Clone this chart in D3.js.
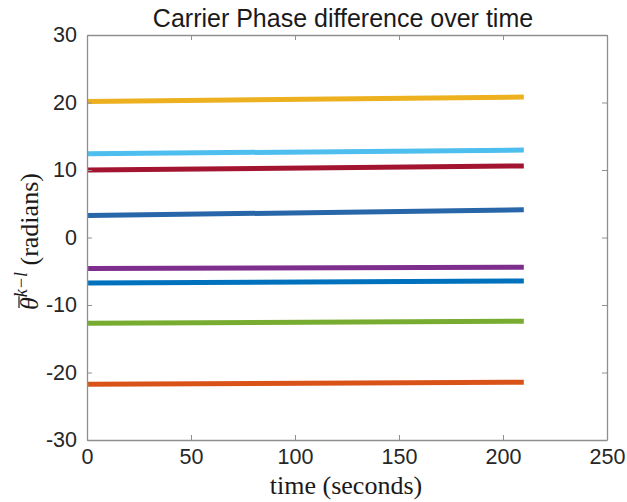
<!DOCTYPE html>
<html>
<head>
<meta charset="utf-8">
<script src="https://cdn.jsdelivr.net/npm/d3@7"></script>
<style>
  html, body { margin: 0; padding: 0; background: #fff; }
  svg { display: block; }
</style>
</head>
<body>
<svg id="chart" width="627" height="502"></svg>
<script>
// Time span of each trace (seconds)
const times = [0.5, 210];

// Phase difference of each satellite pair at start and end of the run (radians)
const seriesNames = ["pair1", "pair2", "pair3", "pair4", "pair5", "pair6", "pair7", "pair8"];
const seriesStart = [20.15, 12.4, 10.0, 3.25, -4.6, -6.75, -12.7, -21.75];
const seriesEnd   = [20.8, 12.95, 10.6, 4.1, -4.4, -6.45, -12.4, -21.45];
const seriesColors = ["#EDB120", "#4DBEEE", "#A2142F", "#2766a8", "#7E2F8E", "#0072BD", "#77AC30", "#D95319"];

const xTicks = [0, 50, 100, 150, 200, 250];
const yTicks = [-30, -20, -10, 0, 10, 20, 30];

const svg = d3.select("#chart");
const plot = { left: 87, right: 607, top: 35, bottom: 440 };

const x = d3.scaleLinear().domain([0, 250]).range([plot.left, plot.right]);
const y = d3.scaleLinear().domain([-30, 30]).range([plot.bottom, plot.top]);

const axisColor = "#8f8f8f";
const tickFont = "'Liberation Sans', Arial, Helvetica, sans-serif";
const serifFont = "'Liberation Serif', 'DejaVu Serif', serif";
const plainNum = d => String(d);   // hyphen-minus, as the axes print it

// Data traces
const line = d3.line().x(d => x(d[0])).y(d => y(d[1]));
seriesNames.forEach((name, i) => {
  const pts = [[times[0], seriesStart[i]], [times[1], seriesEnd[i]]];
  svg.append("path")
    .attr("class", "trace " + name)
    .attr("d", line(pts))
    .attr("fill", "none")
    .attr("stroke", seriesColors[i])
    .attr("stroke-width", 5);
});

// Axes: ticks point inward, mirrored on the opposite sides
function styleAxis(g) {
  g.select(".domain").attr("stroke", axisColor).attr("stroke-width", 1.3);
  g.selectAll(".tick line").attr("stroke", axisColor).attr("stroke-width", 1);
  g.selectAll(".tick text").attr("fill", "#262626")
    .attr("font-family", tickFont).attr("font-size", "21.5px");
}

svg.append("g").attr("transform", `translate(0,${plot.bottom})`)
  .call(d3.axisBottom(x).tickValues(xTicks).tickFormat(plainNum)
    .tickSizeInner(-5).tickSizeOuter(0).tickPadding(9))
  .call(styleAxis);

svg.append("g").attr("transform", `translate(0,${plot.top})`)
  .call(d3.axisTop(x).tickValues(xTicks).tickFormat("")
    .tickSizeInner(-5).tickSizeOuter(0))
  .call(styleAxis);

svg.append("g").attr("transform", `translate(${plot.left},0)`)
  .call(d3.axisLeft(y).tickValues(yTicks).tickFormat(plainNum)
    .tickSizeInner(-5).tickSizeOuter(0).tickPadding(10))
  .call(styleAxis);

svg.append("g").attr("transform", `translate(${plot.right},0)`)
  .call(d3.axisRight(y).tickValues(yTicks).tickFormat("")
    .tickSizeInner(-5).tickSizeOuter(0))
  .call(styleAxis);

// Title
svg.append("text")
  .attr("x", (plot.left + plot.right) / 2 - 4).attr("y", 27)
  .attr("text-anchor", "middle")
  .attr("font-family", tickFont).attr("font-size", "25px")
  .attr("fill", "#1a1a1a")
  .text("Carrier Phase difference over time");

// X label
svg.append("text")
  .attr("x", (plot.left + plot.right) / 2 - 1).attr("y", 494)
  .attr("text-anchor", "middle")
  .attr("font-family", serifFont).attr("font-size", "26px")
  .attr("fill", "#1a1a1a")
  .text("time (seconds)");

// Y label: theta with an overbar and k-l superscript, then units
const ylGroup = svg.append("g")
  .attr("transform", `translate(38,${(plot.top + plot.bottom) / 2 + 4}) rotate(-90)`);
const yl = ylGroup.append("text")
  .attr("text-anchor", "middle")
  .attr("font-family", serifFont).attr("font-size", "26px")
  .attr("fill", "#1a1a1a");
yl.append("tspan").attr("font-style", "italic").text("θ");
yl.append("tspan").attr("font-style", "italic").attr("font-size", "18px").attr("dy", -11).text("k−l");
yl.append("tspan").attr("dy", 11).text(" (radians)");

// overbar above the theta glyph
const thetaBox = yl.node().getExtentOfChar(0);
ylGroup.append("line")
  .attr("x1", thetaBox.x + 2).attr("x2", thetaBox.x + thetaBox.width + 1)
  .attr("y1", thetaBox.y + 4).attr("y2", thetaBox.y + 4)
  .attr("stroke", "#1a1a1a").attr("stroke-width", 1.2);
</script>
</body>
</html>
